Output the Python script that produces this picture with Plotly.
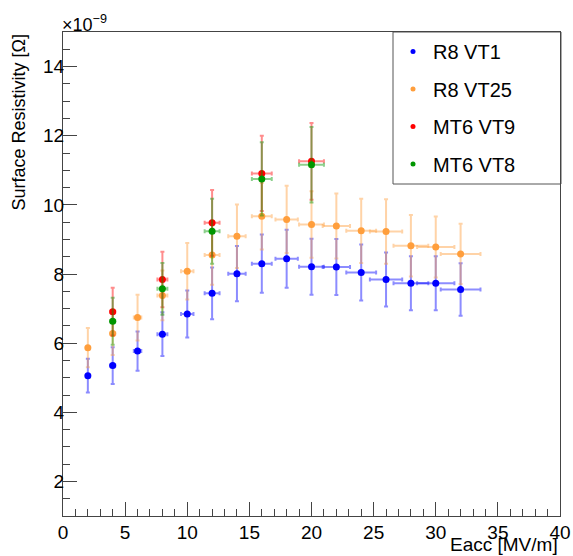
import plotly.graph_objects as go

# Values in units of 1e-9 Ohm (axis shows x10^-9)
r8vt1_x = [2, 4, 6, 8, 10, 12, 14, 16, 18, 20, 22, 24, 26, 28, 30, 32]
r8vt1_y = [5.06, 5.35, 5.77, 6.26, 6.84, 7.44, 8.01, 8.30, 8.44, 8.21, 8.20, 8.04, 7.84, 7.73, 7.73, 7.55]
r8vt1_ey = [0.49, 0.53, 0.57, 0.63, 0.68, 0.75, 0.80, 0.84, 0.84, 0.81, 0.81, 0.81, 0.78, 0.78, 0.78, 0.76]
r8vt1_ex = [0.1, 0.2, 0.3, 0.4, 0.5, 0.6, 0.7, 0.8, 0.9, 1.0, 1.1, 1.2, 1.3, 1.4, 1.5, 1.6]

r8vt25_x = [2, 4, 6, 8, 10, 12, 14, 16, 18, 20, 22, 24, 26, 28, 30, 32]
r8vt25_y = [5.87, 6.28, 6.74, 7.38, 8.08, 8.55, 9.09, 9.67, 9.58, 9.43, 9.39, 9.25, 9.23, 8.82, 8.78, 8.58]
r8vt25_ey = [0.57, 0.62, 0.66, 0.72, 0.82, 0.86, 0.92, 0.96, 0.97, 0.96, 0.94, 0.93, 0.93, 0.89, 0.88, 0.87]
r8vt25_ex = [0.1, 0.2, 0.3, 0.4, 0.5, 0.6, 0.7, 0.8, 0.9, 1.0, 1.1, 1.2, 1.3, 1.4, 1.5, 1.6]

mt6vt9_x = [4, 8, 12, 16, 20]
mt6vt9_y = [6.91, 7.84, 9.48, 10.91, 11.26]
mt6vt9_ey = [0.69, 0.80, 0.95, 1.09, 1.11]
mt6vt9_ex = [0.2, 0.4, 0.6, 0.8, 1.0]

mt6vt8_x = [4, 8, 12, 16, 20]
mt6vt8_y = [6.63, 7.57, 9.24, 10.75, 11.16]
mt6vt8_ey = [0.68, 0.75, 0.94, 1.06, 1.09]
mt6vt8_ex = [0.2, 0.4, 0.6, 0.8, 1.0]

series = [
    ("R8 VT1", r8vt1_x, r8vt1_y, r8vt1_ex, r8vt1_ey, (0, 0, 255)),
    ("R8 VT25", r8vt25_x, r8vt25_y, r8vt25_ex, r8vt25_ey, (255, 158, 60)),
    ("MT6 VT9", mt6vt9_x, mt6vt9_y, mt6vt9_ex, mt6vt9_ey, (255, 0, 0)),
    ("MT6 VT8", mt6vt8_x, mt6vt8_y, mt6vt8_ex, mt6vt8_ey, (0, 150, 0)),
]

FONT = "Liberation Sans, Arial, Helvetica, sans-serif"
fig = go.Figure()

for i, (name, x, y, ex, ey, c) in enumerate(series):
    solid = "rgb(%d,%d,%d)" % c
    trans = "rgba(%d,%d,%d,0.45)" % c
    fig.add_trace(go.Scatter(
        x=x, y=y, mode="markers", name=name, showlegend=False,
        marker=dict(symbol="circle", size=7, color=solid),
        error_x=dict(type="data", array=ex, visible=True, color=trans, thickness=2, width=2),
        error_y=dict(type="data", array=ey, visible=True, color=trans, thickness=2, width=2),
    ))

for i, (name, x, y, ex, ey, c) in enumerate(series):
    fig.add_trace(go.Scatter(
        x=[None], y=[None], mode="markers", name=name, showlegend=True,
        legendgroup="g%d" % i,
        marker=dict(symbol="circle", size=5, color="rgb(%d,%d,%d)" % c),
    ))

L, R, T, B = 63, 13, 32, 40
W, H = 573, 556
pw = W - L - R
ph = H - T - B

fig.add_shape(type="rect", xref="paper", yref="paper",
              x0=(393 - L) / pw, x1=(561 - L) / pw,
              y0=(H - B - 184) / ph, y1=1.0,
              line=dict(color="#555", width=1), fillcolor="white", layer="below")

fig.update_layout(
    width=W, height=H,
    margin=dict(l=L, r=R, t=T, b=B, autoexpand=False),
    paper_bgcolor="white", plot_bgcolor="white",
    font=dict(family=FONT, size=18, color="black"),
    legend=dict(
        x=(393 - L) / pw, y=1.0, xanchor="left", yanchor="top",
        bgcolor="rgba(0,0,0,0)", borderwidth=0,
        font=dict(family=FONT, size=20, color="black"),
        tracegroupgap=8.5, traceorder="grouped",
    ),
    xaxis=dict(
        range=[0, 40], tick0=0, dtick=5, ticks="inside", ticklen=14, tickwidth=1,
        tickcolor="#444", showline=True, linecolor="#444", linewidth=1, mirror=True,
        showgrid=False, zeroline=False, automargin=False, ticklabelstandoff=-1,
        minor=dict(dtick=1, ticks="inside", ticklen=7, tickwidth=1, tickcolor="#444", showgrid=False),
        tickfont=dict(size=19), fixedrange=True,
    ),
    yaxis=dict(
        range=[1, 15], tick0=0, dtick=2, ticks="inside", ticklen=14, tickwidth=1,
        tickcolor="#444", showline=True, linecolor="#444", linewidth=1, mirror=True,
        showgrid=False, zeroline=False, automargin=False, ticklabelstandoff=-6,
        minor=dict(dtick=0.5, ticks="inside", ticklen=7, tickwidth=1, tickcolor="#444", showgrid=False),
        tickfont=dict(size=19), fixedrange=True,
    ),
    annotations=[
        dict(text="Surface Resistivity [Ω]", textangle=-90, xref="paper", yref="paper",
             x=0, y=1, xanchor="center", yanchor="top", xshift=-45, yshift=0,
             showarrow=False, font=dict(size=18)),
        dict(text="Eacc [MV/m]", xref="paper", yref="paper", x=1, y=0,
             xanchor="right", yanchor="middle", yshift=-28, showarrow=False,
             font=dict(size=19)),
        dict(text="×10<sup>−9</sup>", xref="paper", yref="paper", x=0, y=1,
             xanchor="left", yanchor="bottom", xshift=-3, yshift=-5, showarrow=False,
             font=dict(size=18)),
    ],
)

fig.write_html("out.html", config={"displayModeBar": False},
               post_script="document.body.style.margin='0';document.body.style.overflow='hidden';")
